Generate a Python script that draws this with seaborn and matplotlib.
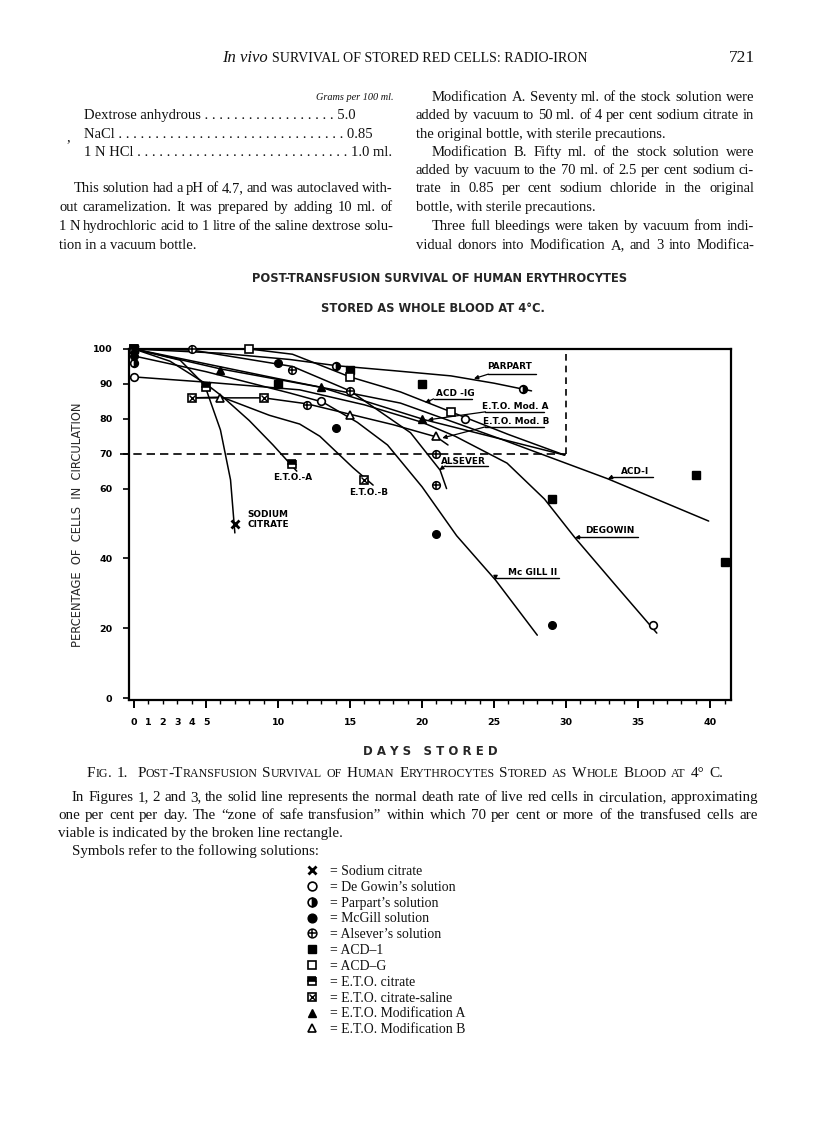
import numpy as np
import pandas as pd
import matplotlib
matplotlib.use("Agg")
import matplotlib.pyplot as plt
import seaborn as sns
from matplotlib.lines import Line2D
from matplotlib.legend_handler import HandlerTuple

sns.set_theme(style="ticks")
plt.rcParams['font.family'] = ['DejaVu Sans']

# ---------------- observed points (days stored, % cells in circulation)
sodium_days = [0, 5, 7]
sodium_pct = [100, 89.5, 50]
degowin_days = [0, 13, 23, 36]
degowin_pct = [92, 85, 80, 21]
parpart_days = [0, 14, 27]
parpart_pct = [96, 95, 88.5]
mcgill_days = [0, 10, 14, 21, 29]
mcgill_pct = [98, 96, 77.5, 47, 21]
alsever_days = [4, 11, 12, 15, 21, 21]
alsever_pct = [100, 94, 84, 88, 70, 61]
acd1_days = [0, 10, 15, 20, 29, 39, 41]
acd1_pct = [100, 90, 94, 90, 57, 64, 39]
acdg_days = [0, 8, 15, 22]
acdg_pct = [100, 100, 92, 82]
etoc_days = [0, 5, 11]
etoc_pct = [100, 89, 67]
etocs_days = [4, 9, 16]
etocs_pct = [86, 86, 62.5]
etoa_days = [0, 6, 13, 20]
etoa_pct = [100, 94, 89, 80]
etob_days = [6, 15, 21]
etob_pct = [86, 81, 75]

# ---------------- curves as drawn
sodium_curve_d = [0, 3.2, 4.9, 6.0, 6.7, 7.0]
sodium_curve_p = [100, 96.8, 89.7, 76.8, 62.5, 47.3]
degowin_curve_d = [0, 5, 11.5, 16, 20, 22.3, 25.9, 28.5, 30.6, 33.5, 36.3]
degowin_curve_p = [92, 90.5, 88.3, 84, 79, 75, 67.3, 57, 46, 32, 18.6]
parpart_curve_d = [0, 6, 10.8, 14.1, 18, 22, 25, 27.6]
parpart_curve_p = [100, 98.8, 97, 95.2, 93.8, 92.3, 90.2, 88]
mcgill_curve_d = [0, 5, 10.8, 13.1, 15.5, 17.6, 20, 22.4, 25.1, 28]
mcgill_curve_p = [98, 93.5, 87.4, 84.8, 79, 72.5, 60.5, 46.5, 33.8, 18]
alsever_curve_d = [0, 4, 11, 15, 19.2, 21.25, 21.7]
alsever_curve_p = [100, 99.7, 95, 88, 76, 65.3, 60]
acd1_curve_d = [0, 10, 18.5, 25.6, 32.9, 39.9]
acd1_curve_p = [100, 91.5, 84.5, 74, 62.8, 50.7]
acdg_curve_d = [0, 8, 11, 15, 18.5, 22, 26, 29.9]
acdg_curve_p = [100, 100, 98.5, 92, 87.7, 82, 75.5, 69.6]
etoc_curve_d = [0, 2.5, 5, 6.1, 8, 9.65, 11.3]
etoc_curve_p = [100, 96.5, 90, 86.5, 79.5, 72.5, 65]
etocs_curve_d = [4, 6.1, 9.4, 11.5, 12.9, 15.2, 16.6]
etocs_curve_p = [86, 86.2, 81, 78.5, 75, 66, 61]
etoa_curve_d = [0, 6, 13, 20.2, 29.9]
etoa_curve_p = [100, 94.3, 89, 79.7, 69.6]
etob_curve_d = [4, 9, 12, 15, 18, 21, 21.8]
etob_curve_p = [86, 86, 84.3, 81.3, 78.3, 74.8, 72.5]

# zone of safe transfusion
zone_days = 30
zone_pct = 70

y_ticks = [0, 20, 40, 60, 70, 80, 90, 100]
x_major = [0, 5, 10, 15, 20, 25, 30, 35, 40]
x_labels = ['0', '5', '10', '15', '20', '25', '30', '35', '40']

W, H = 816, 1130
fig = plt.figure(figsize=(W / 100, H / 100), dpi=100)
fig.patch.set_facecolor('white')
renderer = fig.canvas.get_renderer()


def fx(x):
    return x / W


def fy(y):
    return 1 - y / H


ax = fig.add_axes([fx(129), fy(700), (731 - 129) / W, (700 - 349) / H])
ax.set_facecolor('white')
ax.set_xlim(-0.35, 41.45)
ax.set_ylim(-0.57, 100.0)

curves = [
    (sodium_curve_d, sodium_curve_p), (degowin_curve_d, degowin_curve_p),
    (parpart_curve_d, parpart_curve_p), (mcgill_curve_d, mcgill_curve_p),
    (alsever_curve_d, alsever_curve_p), (acd1_curve_d, acd1_curve_p),
    (acdg_curve_d, acdg_curve_p), (etoc_curve_d, etoc_curve_p),
    (etocs_curve_d, etocs_curve_p), (etoa_curve_d, etoa_curve_p),
    (etob_curve_d, etob_curve_p),
]
for d, p in curves:
    sns.lineplot(x=d, y=p, ax=ax, color='black', linewidth=1.1,
                 sort=False, estimator=None, legend=False)

# safe-transfusion rectangle
ax.plot([ax.get_xlim()[0] - 0.6, zone_days], [zone_pct, zone_pct], color='black',
        lw=1.2, ls=(0, (5, 3)), clip_on=False)
ax.plot([zone_days, zone_days], [zone_pct, 100], color='black', lw=1.2,
        ls=(0, (4, 3)))

ms = 5.5
kw = dict(ls='none', color='black', clip_on=False, zorder=6, markersize=ms)
styles = {
    'sodium': dict(marker='x', mew=2.0),
    'degowin': dict(marker='o', mfc='white', mew=1.2),
    'parpart': dict(marker='o', fillstyle='right', mfc='black', mfcalt='white', mew=1.2),
    'mcgill': dict(marker='o', mfc='black', mew=1.0),
    'alsever': dict(marker='o', mfc='white', mew=1.1),
    'alsever2': dict(marker='+', mew=1.1, markersize=ms - 0.3),
    'acd1': dict(marker='s', mfc='black', mew=1.0),
    'acdg': dict(marker='s', mfc='white', mew=1.2),
    'etoc': dict(marker='s', fillstyle='top', mfc='black', mfcalt='white', mew=1.2),
    'etocs': dict(marker='s', mfc='white', mew=1.2),
    'etocs2': dict(marker='x', mew=1.0, markersize=ms - 1.5),
    'etoa': dict(marker='^', mfc='black', mew=1.0),
    'etob': dict(marker='^', mfc='white', mew=1.2),
}
point_sets = [
    ('sodium', sodium_days, sodium_pct), ('degowin', degowin_days, degowin_pct),
    ('parpart', parpart_days, parpart_pct), ('mcgill', mcgill_days, mcgill_pct),
    ('alsever', alsever_days, alsever_pct), ('alsever2', alsever_days, alsever_pct),
    ('acd1', acd1_days, acd1_pct), ('acdg', acdg_days, acdg_pct),
    ('etoc', etoc_days, etoc_pct), ('etocs', etocs_days, etocs_pct),
    ('etocs2', etocs_days, etocs_pct), ('etoa', etoa_days, etoa_pct),
    ('etob', etob_days, etob_pct),
]
for key, d, p in point_sets:
    st = dict(kw)
    st.update(styles[key])
    ax.plot(d, p, **st)

# spines / ticks
for s in ax.spines.values():
    s.set_color('black')
    s.set_linewidth(1.6)
ax.set_yticks(y_ticks)
ax.set_yticklabels([str(v) for v in y_ticks])
ax.set_xticks(x_major)
ax.set_xticklabels(x_labels)
ax.set_xticks(list(range(0, 42)), labels=['', '1', '2', '3', '4'] + [''] * 37, minor=True)
ax.tick_params(axis='x', which='major', direction='out', length=6, width=1.4, pad=7,
               labelsize=6.8, colors='black')
ax.tick_params(axis='x', which='minor', direction='out', length=3, width=1.0, pad=10,
               labelsize=6.8, colors='black')
ax.tick_params(axis='y', direction='out', length=4, width=1.2, pad=8, labelsize=6.8,
               colors='black')
for lab in ax.get_xticklabels() + ax.get_yticklabels() + ax.get_xticklabels(minor=True):
    lab.set_fontweight('bold')
ax.grid(False)

ax.set_xlabel('D A Y S   S T O R E D', fontsize=8.5, fontweight='bold', labelpad=13)
ax.set_ylabel('PERCENTAGE  OF  CELLS  IN  CIRCULATION', fontsize=8.3, labelpad=6)

# curve labels with leaders
lab_kw = dict(fontsize=6.4, fontweight='bold', color='black')
labels = [
    # text, text center (day, pct), underline (d0, d1, pct), arrow tip (day, pct)
    ('PARPART', (26.1, 95.1), (24.6, 27.9, 92.8), (23.6, 91.5)),
    ('ACD -IG', (22.3, 87.3), (20.8, 23.5, 85.7), (20.2, 84.6)),
    ('E.T.O. Mod. A', (26.5, 83.4), (24.4, 28.5, 82.0), (20.4, 79.7)),
    ('E.T.O. Mod. B', (26.5, 79.1), (24.4, 28.5, 77.7), (21.4, 74.5)),
    ('ALSEVER', (22.9, 67.9), (21.6, 24.6, 66.5), (21.2, 65.3)),
    ('ACD-I', (34.8, 64.8), (33.2, 36.0, 63.3), (32.9, 62.8)),
    ('DEGOWIN', (33.0, 48.1), (31.0, 35.0, 46.1), (30.6, 45.9)),
    ('Mc GILL II', (27.7, 36.1), (25.1, 29.5, 34.4), (25.1, 33.8)),
]
for txt, (tx, ty), (u0, u1, uy), (ax_, ay_) in labels:
    ax.text(tx, ty, txt, ha='center', va='center', **lab_kw)
    ax.plot([u0, u1], [uy, uy], color='black', lw=1.0)
    ax.annotate('', xy=(ax_, ay_), xytext=(u0, uy),
                arrowprops=dict(arrowstyle='-|>', color='black', lw=0.9,
                                mutation_scale=6, shrinkA=0, shrinkB=0))
ax.text(11.0, 63.3, 'E.T.O.-A', ha='center', va='center', **lab_kw)
ax.text(16.3, 58.9, 'E.T.O.-B', ha='center', va='center', **lab_kw)
ax.text(7.9, 52.7, 'SODIUM', ha='left', va='center', **lab_kw)
ax.text(7.9, 49.6, 'CITRATE', ha='left', va='center', **lab_kw)

# chart title
fig.text(fx(440), fy(279), 'POST-TRANSFUSION SURVIVAL OF HUMAN ERYTHROCYTES',
         ha='center', va='center', fontsize=8.3, fontweight='bold')
fig.text(fx(433), fy(308), 'STORED AS WHOLE BLOOD AT 4°C.',
         ha='center', va='center', fontsize=8.3, fontweight='bold')

# ---------------- page text helpers
serif = ['Liberation Serif', 'DejaVu Serif']
INK = '#111111'


def text_width(s, **tk):
    t = fig.text(0, 0, s, **tk)
    w = t.get_window_extent(renderer).width
    t.remove()
    return w


def put_line(x0, x1, y, s, justify, size):
    tk = dict(family=serif, fontsize=size, color=INK)
    if not justify:
        fig.text(fx(x0), fy(y), s, ha='left', va='baseline', **tk)
        return
    words = s.split()
    widths = [text_width(w, **tk) for w in words]
    gap = (x1 - x0 - sum(widths)) / max(len(words) - 1, 1)
    x = x0
    for w, wd in zip(words, widths):
        fig.text(fx(x), fy(y), w, ha='left', va='baseline', **tk)
        x += wd + gap


def small_caps(xc, y, s, big, small, space):
    # mixed-case string -> capitals big, lower-case letters as small capitals
    runs = []
    for word in s.split(' '):
        wr = []
        for ch in word:
            sz = small if ch.islower() else big
            if wr and wr[-1][1] == sz:
                wr[-1][0] += ch.upper()
            else:
                wr.append([ch.upper(), sz])
        runs.append(wr)
    widths = [[text_width(t, family=serif, fontsize=sz) for t, sz in wr] for wr in runs]
    total = sum(sum(w) for w in widths) + space * (len(runs) - 1)
    x = xc - total / 2
    for wr, ws in zip(runs, widths):
        for (t, sz), w in zip(wr, ws):
            fig.text(fx(x), fy(y), t, family=serif, fontsize=sz, color=INK,
                     ha='left', va='baseline')
            x += w
        x += space


BODY = 10.5
# running head
fig.text(fx(222), fy(62), 'In vivo', family=serif, style='italic', fontsize=12,
         va='baseline', ha='left', color=INK)
fig.text(fx(272), fy(62), 'SURVIVAL OF STORED RED CELLS: RADIO-IRON', family=serif,
         fontsize=10.1, va='baseline', ha='left', color=INK)
fig.text(fx(755), fy(62), '721', family=serif, fontsize=12.5, va='baseline', ha='right',
         color=INK)

fig.text(fx(394), fy(100), 'Grams per 100 ml.', family=serif, style='italic',
         fontsize=7.4, va='baseline', ha='right', color=INK)
left_rows = [
    (84, 119, 'Dextrose anhydrous ' + '. ' * 18 + '5.0'),
    (84, 138, 'NaCl ' + '. ' * 31 + '0.85'),
    (84, 156, '1 N HCl ' + '. ' * 29 + '1.0 ml.'),
]
for x, y, t in left_rows:
    put_line(x, 0, y, t, False, BODY)
put_line(66, 0, 141, ',', False, BODY)

left_par = [
    (74, 393, 192, 'This solution had a pH of 4.7, and was autoclaved with-', True),
    (59, 393, 211, 'out caramelization. It was prepared by adding 10 ml. of', True),
    (59, 393, 230, '1 N hydrochloric acid to 1 litre of the saline dextrose solu-', True),
    (59, 393, 249, 'tion in a vacuum bottle.', False),
]
right_par = [
    (432, 754, 101, 'Modification A.  Seventy ml. of the stock solution were', True),
    (416, 754, 119, 'added by vacuum to 50 ml. of 4 per cent sodium citrate in', True),
    (416, 754, 138, 'the original bottle, with sterile precautions.', False),
    (432, 754, 156, 'Modification B.  Fifty ml. of the stock solution were', True),
    (416, 754, 174, 'added by vacuum to the 70 ml. of 2.5 per cent sodium ci-', True),
    (416, 754, 192, 'trate in 0.85 per cent sodium chloride in the original', True),
    (416, 754, 211, 'bottle, with sterile precautions.', False),
    (432, 754, 230, 'Three full bleedings were taken by vacuum from indi-', True),
    (416, 754, 249, 'vidual donors into Modification A, and 3 into Modifica-', True),
]
for x0, x1, y, t, j in left_par + right_par:
    put_line(x0, x1, y, t, j, BODY)

# figure caption
small_caps(405, 777, 'Fig. 1.  Post-Transfusion Survival of Human Erythrocytes Stored as Whole Blood at 4\u00b0 C.',
           11.0, 8.6, 4.8)
CAP = 10.8
caption = [
    (72, 758, 801, 'In Figures 1, 2 and 3, the solid line represents the normal death rate of live red cells in circulation, approximating', True),
    (58, 758, 819, 'one per cent per day.   The \u201czone of safe transfusion\u201d within which 70 per cent or more of the transfused cells are', True),
    (58, 758, 837, 'viable is indicated by the broken line rectangle.', False),
    (72, 758, 855, 'Symbols refer to the following solutions:', False),
]
for x0, x1, y, t, j in caption:
    put_line(x0, x1, y, t, j, CAP)


# ---------------- symbol key
def h(key):
    st = dict(styles[key])
    st['markersize'] = st.get('markersize', ms) + 0.8
    return Line2D([], [], ls='none', color='black', **st)


key_handles = [h('sodium'), h('degowin'), h('parpart'), h('mcgill'),
               (h('alsever'), h('alsever2')), h('acd1'), h('acdg'), h('etoc'),
               (h('etocs'), h('etocs2')), h('etoa'), h('etob')]
key_labels = ['= Sodium citrate', '= De Gowin\u2019s solution', '= Parpart\u2019s solution',
              '= McGill solution', '= Alsever\u2019s solution', '= ACD\u20131', '= ACD\u2013G',
              '= E.T.O. citrate', '= E.T.O. citrate-saline', '= E.T.O. Modification A',
              '= E.T.O. Modification B']
leg = fig.legend(key_handles, key_labels, loc='upper left',
                 bbox_to_anchor=(fx(304), fy(865)), frameon=False,
                 handler_map={tuple: HandlerTuple(ndivide=1, pad=0)},
                 prop={'family': 'Liberation Serif', 'size': 9.9},
                 handlelength=1.2, handletextpad=0.7, labelspacing=0.205,
                 borderpad=0, borderaxespad=0)
for t in leg.get_texts():
    t.set_color(INK)

fig.savefig('out.png', dpi=100, facecolor='white')
